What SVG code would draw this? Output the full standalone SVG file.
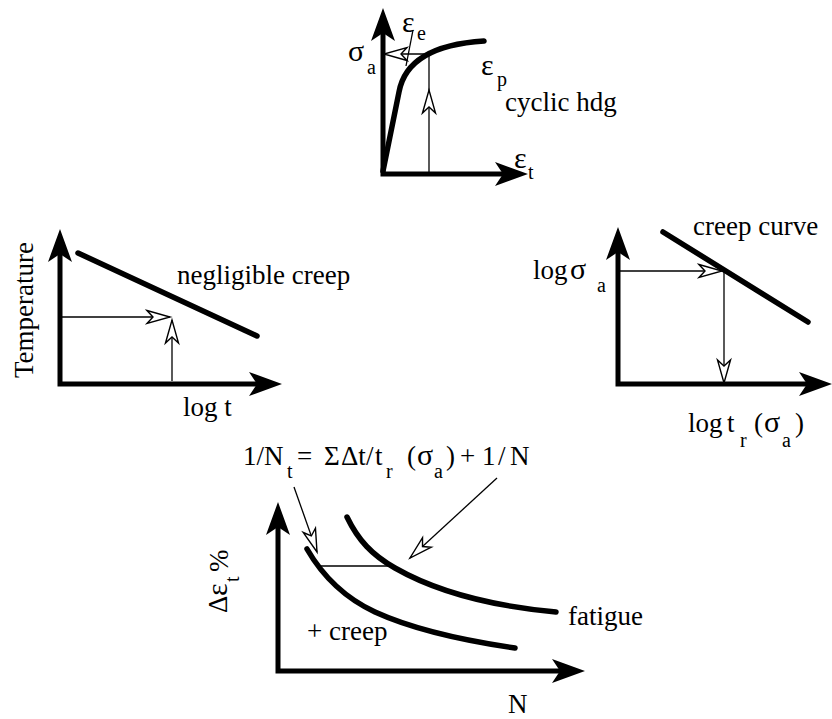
<svg xmlns="http://www.w3.org/2000/svg" width="832" height="719" viewBox="0 0 832 719" font-family="Liberation Serif, Times New Roman, serif">
<style>
text{font-family:"Liberation Serif","Times New Roman",serif;font-size:27px;fill:#000}
.sub{font-size:20px}
.gr{font-size:30px}
.axis{fill:none;stroke:#000;stroke-width:5;stroke-linejoin:miter;marker-start:url(#ah);marker-end:url(#ah)}
.curve{fill:none;stroke:#000;stroke-width:5.5;stroke-linecap:round}
.thin{fill:none;stroke:#000;stroke-width:1.3}
.arr{marker-end:url(#oh)}
</style>
<defs>
<marker id="ah" markerUnits="userSpaceOnUse" markerWidth="40" markerHeight="30" refX="8" refY="12" orient="auto-start-reverse">
<path d="M0,0 L33,12 L0,24 L8,12 Z" fill="#000"/>
</marker>
<marker id="oh" markerUnits="userSpaceOnUse" markerWidth="30" markerHeight="20" refX="24" refY="7.5" orient="auto" overflow="visible">
<path d="M1,1 L24,7.5 L1,14 L7,7.5 Z" fill="#fff" stroke="#000" stroke-width="1.4" stroke-linejoin="miter"/>
</marker>
</defs>

<g id="cyclic-plot">
<polyline class="axis" points="383,33 383,174 503,174"/>
<path class="curve" d="M383,171 L399,92 C403,70 420,45 484,41"/>
<text class="gr" x="348" y="61">σ</text><text class="sub" x="367" y="74">a</text>
<text class="gr" x="402" y="32">ε</text><text class="sub" x="417" y="40">e</text>
<text class="gr" x="481" y="75">ε</text><text class="sub" x="497" y="86">p</text>
<text x="505" y="111">cyclic hdg</text>
<text class="gr" x="514" y="168">ε</text><text class="sub" x="528" y="179">t</text>
</g>

<g id="temperature-plot">
<polyline class="axis" points="60,254 60,384 257,384"/>
<path class="curve" d="M78,253 L257,336"/>
<text transform="translate(33,378) rotate(-90)">Temperature</text>
<text x="177" y="284">negligible creep</text>
<text x="183" y="416">log t</text>
</g>

<g id="creep-plot">
<polyline class="axis" points="618,252 618,384 807,384"/>
<path class="curve" d="M663,232 L808,322"/>
<text x="693" y="235">creep curve</text>
<text x="533" y="279">log</text><text class="gr" x="570" y="279">σ</text><text class="sub" x="597" y="292">a</text>
<text x="688" y="432">log</text><text x="727" y="432">t</text><text class="sub" x="740" y="447">r</text>
<text x="754" y="432">(</text><text class="gr" x="764" y="432">σ</text><text class="sub" x="782" y="447">a</text><text x="795" y="432">)</text>
</g>

<g id="fatigue-plot">
<polyline class="axis" points="278,527 278,671 560,671"/>
<path class="curve" d="M307,549 C322,575 345,598 375,612 C410,628 460,640 515,648"/>
<path class="curve" d="M347,517 C358,540 372,555 395,568 C430,588 480,605 556,612"/>
<text><tspan x="243" y="465">1/N</tspan><tspan class="sub" x="287" y="478">t</tspan><tspan x="297" y="465">=</tspan><tspan x="324" y="465">Σ</tspan><tspan x="341" y="465">Δt</tspan><tspan x="366" y="465">/</tspan><tspan x="375" y="465">t</tspan><tspan class="sub" x="386" y="478">r</tspan><tspan x="407" y="465">(</tspan><tspan class="gr" x="417" y="465">σ</tspan><tspan class="sub" x="434" y="478">a</tspan><tspan x="446" y="465">)</tspan><tspan x="460" y="465">+</tspan><tspan x="482" y="465">1</tspan><tspan x="498" y="465">/</tspan><tspan x="510" y="465">N</tspan></text>
<text transform="translate(227,613) rotate(-90)"><tspan x="0" y="0">Δ</tspan><tspan class="gr" x="17" y="0">ε</tspan><tspan class="sub" x="31" y="12">t</tspan><tspan x="41" y="1">%</tspan></text>
<text x="307" y="640">+ creep</text>
<text x="568" y="625">fatigue</text>
<text x="508" y="713">N</text>
</g>

<g id="connectors">
<path class="thin" d="M429,174 L429,90 L429,54" marker-mid="url(#oh)"/>
<path class="thin arr" d="M429,54 L384,54"/>
<path class="thin" d="M413,30 L406,66"/>
<path class="thin arr" d="M60,317 L170,317"/>
<path class="thin arr" d="M172,381 L172,320"/>
<path class="thin arr" d="M618,271 L722,271"/>
<path class="thin arr" d="M724,271 L724,383"/>
<path class="thin" d="M320,566 L394,566"/>
<path class="thin arr" d="M294,487 L317,552"/>
<path class="thin arr" d="M497,478 L410,558"/>
</g>
</svg>
